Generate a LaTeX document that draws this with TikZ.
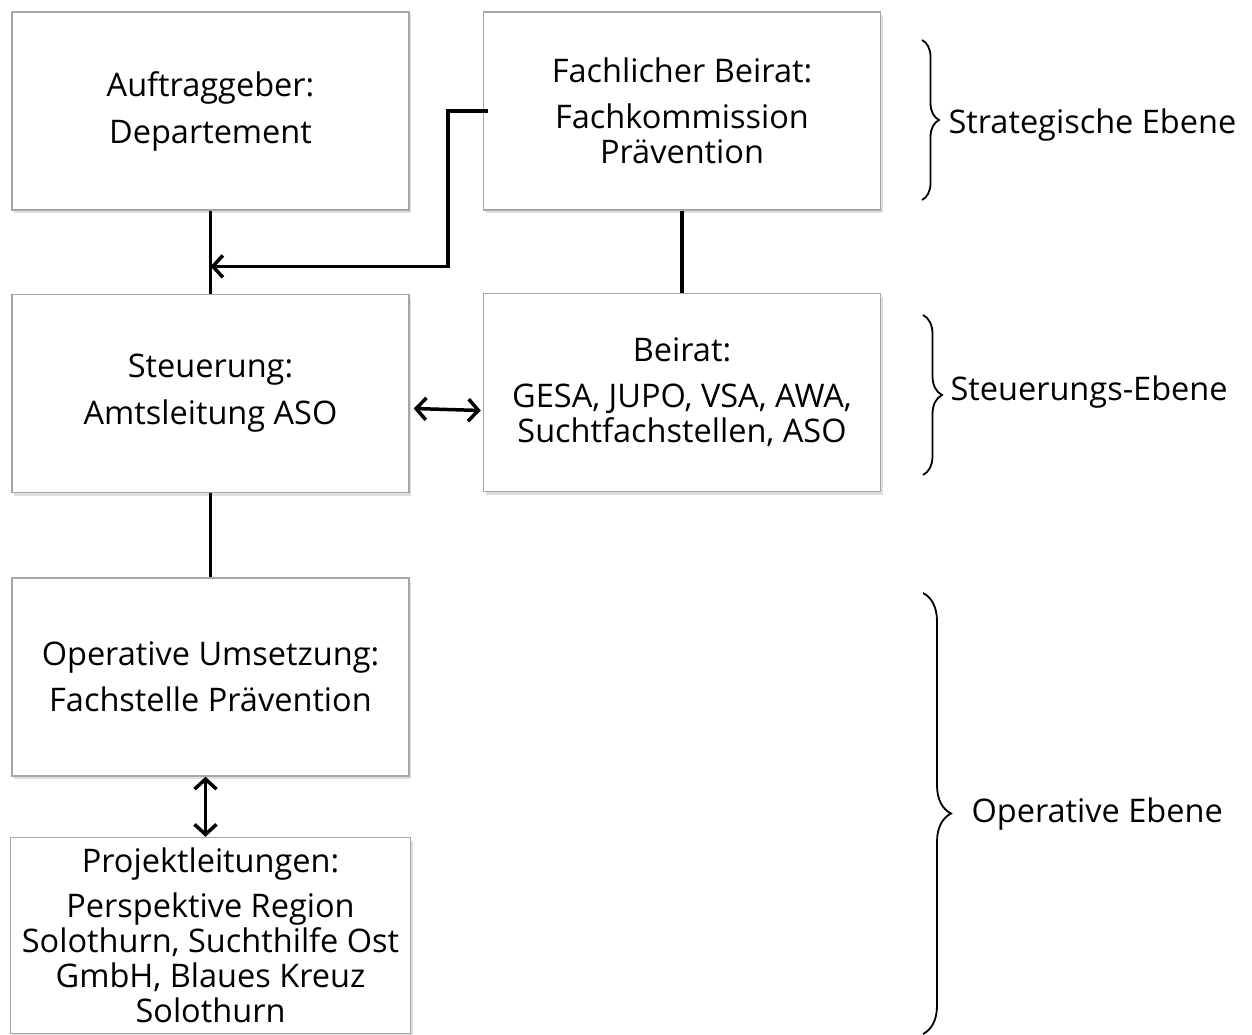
\documentclass[tikz,border=0pt]{standalone}
\usepackage{fontspec}
\setmainfont{Open Sans}
\usetikzlibrary{positioning,arrows.meta,calc,shadows,decorations.pathreplacing}
\definecolor{rahmengrau}{HTML}{A6A6A6}

\begin{document}
\begin{tikzpicture}[x=1pt, y=-1pt,
  node distance=83pt and 73pt,
  box/.style={draw=rahmengrau, line width=1.5pt, fill=white, align=center,
    minimum width=397pt, minimum height=198pt, inner sep=2pt,
    font=\fontsize{32.5}{35}\selectfont,
    drop shadow={opacity=0.25, shadow xshift=2pt, shadow yshift=-3pt}},
  linie/.style={line width=3.5pt},
  arrow/.style={linie, -{Straight Barb[length=10pt, width=22pt]}},
  doppel/.style={linie, {Straight Barb[length=10pt, width=22pt]}-{Straight Barb[length=10pt, width=22pt]}},
  klammer/.style={decorate, decoration={brace, amplitude=#1}, line width=1.8pt},
  ebene/.style={anchor=west, font=\fontsize{32.5}{35}\selectfont}
]
\useasboundingbox (0,0) rectangle (1252,1035);

\node[box] (auftrag) at (210.5,111) {Auftraggeber:\\[12pt]Departement};
\node[box, right=of auftrag] (fach) {Fachlicher Beirat:\\[11pt]Fachkommission\\Prävention};
\node[box, below=of auftrag] (steuerung) {Steuerung:\\[12pt]Amtsleitung ASO};
\node[box, below=82pt of fach] (beirat) {Beirat:\\[11pt]GESA, JUPO, VSA, AWA,\\Suchtfachstellen, ASO};
\node[box, below=84pt of steuerung] (operativ) {Operative Umsetzung:\\[11pt]Fachstelle Prävention};
\node[box, below=60pt of operativ, minimum height=196pt, minimum width=400pt]
  (projekt) {Projektleitungen:\\[10pt]Perspektive Region\\Solothurn, Suchthilfe Ost\\GmbH, Blaues Kreuz\\Solothurn};

% Verbindungen
\coordinate (knick) at ($(auftrag.south)!0.67!(steuerung.north)$);
\draw[linie] (auftrag) -- (steuerung);
\draw[linie] (fach) -- (beirat);
\draw[linie] (steuerung) -- (operativ);
\draw[arrow] ([xshift=5pt]fach.west) -- ++(-40,0) |- (knick);
\draw[doppel] ([xshift=4pt, yshift=-15pt]steuerung.east) -- ([xshift=-2pt, yshift=-18pt]beirat.west);
\draw[doppel] ([xshift=-5pt]operativ.south) -- ([xshift=-5pt]projekt.north);

% Ebenen
\draw[klammer=17pt] (922,40) -- (922,200);
\node[ebene] (strategisch) at (945,125) {Strategische Ebene};
\draw[klammer=19pt] (923,315) -- (923,475);
\node[ebene] (steuerebene) at (947,392) {Steuerungs-Ebene};
\draw[klammer=28pt] (923,593) -- (923,1034);
\node[ebene] (operativebene) at (968,814) {Operative Ebene};
\end{tikzpicture}
\end{document}
